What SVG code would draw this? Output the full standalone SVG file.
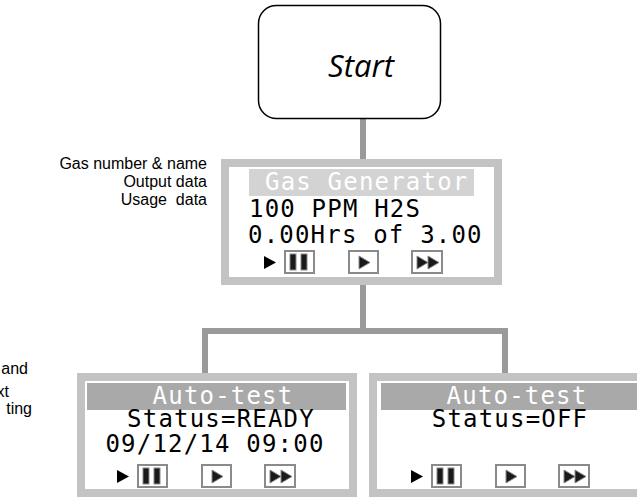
<svg xmlns="http://www.w3.org/2000/svg" xmlns:xlink="http://www.w3.org/1999/xlink" width="637" height="498" viewBox="0 0 637 498">
<style>
.lbl{font-family:"Liberation Sans",Arial,sans-serif;font-size:16px;fill:#000}
.mono{font-family:"DejaVu Sans Mono",monospace;font-size:24px;letter-spacing:1.2px;fill:#000}
.hd{fill:#fff}
.frame{fill:#fff;stroke:#c3c3c3;stroke-width:8}
.conn{stroke:#9a9a9a;stroke-width:6;fill:none}
.bbox{fill:#fff;stroke:#8a8a8a;stroke-width:2}
.dark{fill:#1a1a1a;stroke:#8a8a8a;stroke-width:1}
</style>
<defs>
<g id="btnrow">
<polygon points="0,6 12,12.5 0,19" fill="#000"/>
<rect class="bbox" x="21" y="1" width="29" height="22"/>
<rect class="dark" x="26" y="4" width="6" height="16"/>
<rect class="dark" x="37" y="4" width="6" height="16"/>
<rect class="bbox" x="85" y="1" width="29" height="22"/>
<polygon class="dark" points="95,6 106,12.5 95,19"/>
<rect class="bbox" x="148" y="1" width="30" height="22"/>
<polygon class="dark" points="153,6 164,12.5 153,19"/>
<polygon class="dark" points="164,6 175,12.5 164,19"/>
</g>
</defs>
<g id="connectors">
<line class="conn" x1="363" y1="119" x2="363" y2="159"/>
<line class="conn" x1="363" y1="285" x2="363" y2="331"/>
<polyline class="conn" points="205,373 205,331 505,331 505,373"/>
</g>
<g id="start">
<rect x="258.5" y="5.5" width="182" height="113" rx="18" fill="#fff" stroke="#000" stroke-width="1.5"/>
<text x="361" y="77" text-anchor="middle" font-family="'Open Sans',sans-serif" font-style="italic" font-size="31">Start</text>
</g>
<g id="gas-labels">
<text class="lbl" x="207" y="169" text-anchor="end">Gas number &amp; name</text>
<text class="lbl" x="207" y="187" text-anchor="end">Output data</text>
<text class="lbl" x="207" y="205" text-anchor="end" xml:space="preserve">Usage  data</text>
</g>
<g id="side-labels">
<text class="lbl" x="28" y="374" text-anchor="end">and</text>
<text class="lbl" x="9" y="397" text-anchor="end">xt</text>
<text class="lbl" x="32" y="414" text-anchor="end">ting</text>
</g>
<g id="gas-generator">
<rect class="frame" x="225" y="163" width="273" height="118"/>
<rect x="249" y="169" width="225" height="27" fill="#d3d3d3"/>
<text class="mono hd" x="265" y="190">Gas Generator</text>
<text class="mono" x="249" y="217">100 PPM H2S</text>
<text class="mono" x="248" y="243">0.00Hrs of 3.00</text>
<use xlink:href="#btnrow" x="264" y="250"/>
</g>
<g id="auto-test-ready">
<rect class="frame" x="81" y="377" width="272" height="116"/>
<rect x="87" y="383" width="259" height="27" fill="#a9a9a9"/>
<text class="mono hd" x="223" y="404" text-anchor="middle">Auto-test</text>
<text class="mono" x="221" y="427" text-anchor="middle">Status=READY</text>
<text class="mono" x="215" y="452" text-anchor="middle">09/12/14 09:00</text>
<use xlink:href="#btnrow" x="117" y="464"/>
</g>
<g id="auto-test-off">
<rect class="frame" x="373" y="377" width="272" height="116"/>
<rect x="381" y="383" width="260" height="27" fill="#a9a9a9"/>
<text class="mono hd" x="517" y="404" text-anchor="middle">Auto-test</text>
<text class="mono" x="510" y="427" text-anchor="middle">Status=OFF</text>
<use xlink:href="#btnrow" x="411" y="464"/>
</g>
</svg>
